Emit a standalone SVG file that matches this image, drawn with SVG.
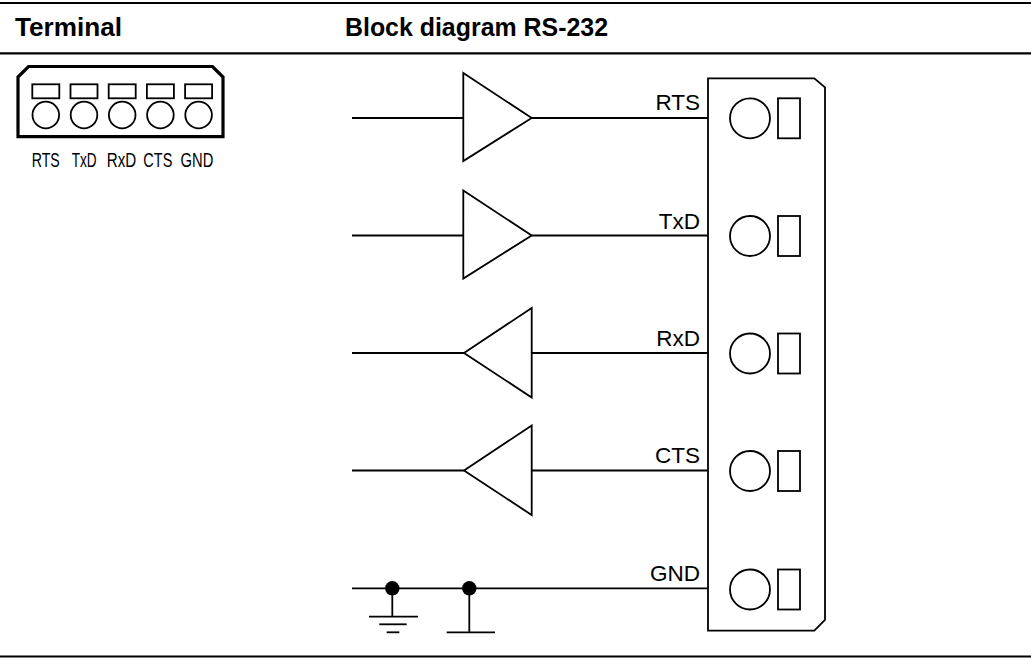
<svg xmlns="http://www.w3.org/2000/svg" width="1031" height="658" viewBox="0 0 1031 658">
<style>
.rule{stroke:#000;stroke-width:2.2;fill:none}
.ln{stroke:#000;stroke-width:1.8;fill:none}
.sh{stroke:#000;stroke-width:1.8;fill:#fff}
.hd{font-family:"Liberation Sans Narrow","Liberation Sans",Arial,sans-serif;font-weight:bold;font-size:25px;fill:#000}
.lb{font-family:"Liberation Sans",Arial,sans-serif;font-size:22.5px;fill:#000;text-anchor:end}
.pl{font-family:"Liberation Sans",Arial,sans-serif;font-size:20px;fill:#000}
</style>
<rect width="1031" height="658" fill="#fff"/>
<g id="header">
<line class="rule" x1="0" y1="3" x2="1031" y2="3"/>
<line class="rule" x1="0" y1="53.3" x2="1031" y2="53.3"/>
<line class="rule" x1="0" y1="656.5" x2="1031" y2="656.5"/>
<text class="hd" x="15" y="36" textLength="107" lengthAdjust="spacingAndGlyphs">Terminal</text>
<text class="hd" x="345" y="36" textLength="263" lengthAdjust="spacingAndGlyphs">Block diagram RS-232</text>
</g>
<g id="terminal">
<path d="M18,77 L28.5,66.5 H212.5 L223,77 V136.7 H18 Z" fill="none" stroke="#000" stroke-width="3.2"/>
<g class="ln">
<rect x="32.3" y="84.3" width="27" height="14"/>
<rect x="70.5" y="84.3" width="27" height="14"/>
<rect x="108.7" y="84.3" width="27" height="14"/>
<rect x="146.9" y="84.3" width="27" height="14"/>
<rect x="185.1" y="84.3" width="27" height="14"/>
<circle cx="45.8" cy="115" r="13.3"/>
<circle cx="84" cy="115" r="13.3"/>
<circle cx="122.2" cy="115" r="13.3"/>
<circle cx="160.4" cy="115" r="13.3"/>
<circle cx="198.6" cy="115" r="13.3"/>
</g>
<text class="pl" x="31.7" y="167" textLength="28" lengthAdjust="spacingAndGlyphs">RTS</text>
<text class="pl" x="71.7" y="167" textLength="25" lengthAdjust="spacingAndGlyphs">TxD</text>
<text class="pl" x="106.7" y="167" textLength="29.5" lengthAdjust="spacingAndGlyphs">RxD</text>
<text class="pl" x="143.3" y="167" textLength="29" lengthAdjust="spacingAndGlyphs">CTS</text>
<text class="pl" x="180.5" y="167" textLength="32.8" lengthAdjust="spacingAndGlyphs">GND</text>
</g>
<g id="connectors">
<line class="ln" x1="352" y1="118" x2="463.3" y2="118"/>
<line class="ln" x1="531.7" y1="118" x2="708" y2="118"/>
<line class="ln" x1="352" y1="235.5" x2="463.3" y2="235.5"/>
<line class="ln" x1="531.7" y1="235.5" x2="708" y2="235.5"/>
<line class="ln" x1="352" y1="353" x2="464" y2="353"/>
<line class="ln" x1="531.7" y1="353" x2="708" y2="353"/>
<line class="ln" x1="352" y1="470.5" x2="464" y2="470.5"/>
<line class="ln" x1="531.7" y1="470.5" x2="708" y2="470.5"/>
<line class="ln" x1="352" y1="588.3" x2="708" y2="588.3"/>
</g>
<g id="driver-rts"><path class="sh" d="M463.3,73 L531.7,118 L463.3,161 Z"/></g>
<g id="driver-txd"><path class="sh" d="M463.3,190.5 L531.7,235.5 L463.3,278.5 Z"/></g>
<g id="receiver-rxd"><path class="sh" d="M531.7,308 L464,353 L531.7,397.5 Z"/></g>
<g id="receiver-cts"><path class="sh" d="M531.7,425.5 L464,470.5 L531.7,515 Z"/></g>
<g id="ground">
<circle cx="392.3" cy="588.3" r="7.2" fill="#000"/>
<line class="ln" x1="392.3" y1="588.3" x2="392.3" y2="616.7"/>
<line class="ln" x1="369" y1="616.7" x2="418" y2="616.7"/>
<line class="ln" x1="379.3" y1="624.3" x2="406.7" y2="624.3"/>
<line class="ln" x1="386.7" y1="632.3" x2="399.3" y2="632.3"/>
<circle cx="469.3" cy="588.3" r="7.2" fill="#000"/>
<line class="ln" x1="469.3" y1="588.3" x2="469.3" y2="632.3"/>
<line class="ln" x1="446.7" y1="632.3" x2="495" y2="632.3"/>
</g>
<g id="labels">
<text class="lb" x="700" y="109.5">RTS</text>
<text class="lb" x="700" y="228.5">TxD</text>
<text class="lb" x="700" y="345.5">RxD</text>
<text class="lb" x="700" y="463">CTS</text>
<text class="lb" x="700" y="580.7">GND</text>
</g>
<g id="connector-block">
<path class="ln" d="M708,78.3 H814.3 L825,87.3 V620 L814.3,630.7 H708 Z"/>
<circle class="ln" cx="750" cy="118.3" r="20"/>
<rect class="ln" x="778" y="98.3" width="22" height="40"/>
<circle class="ln" cx="750" cy="236" r="20"/>
<rect class="ln" x="778" y="216" width="22" height="40"/>
<circle class="ln" cx="750" cy="353.5" r="20"/>
<rect class="ln" x="778" y="333.5" width="22" height="40"/>
<circle class="ln" cx="750" cy="471" r="20"/>
<rect class="ln" x="778" y="451" width="22" height="40"/>
<circle class="ln" cx="750" cy="589.5" r="20"/>
<rect class="ln" x="778" y="569.5" width="22" height="40"/>
</g>
</svg>
